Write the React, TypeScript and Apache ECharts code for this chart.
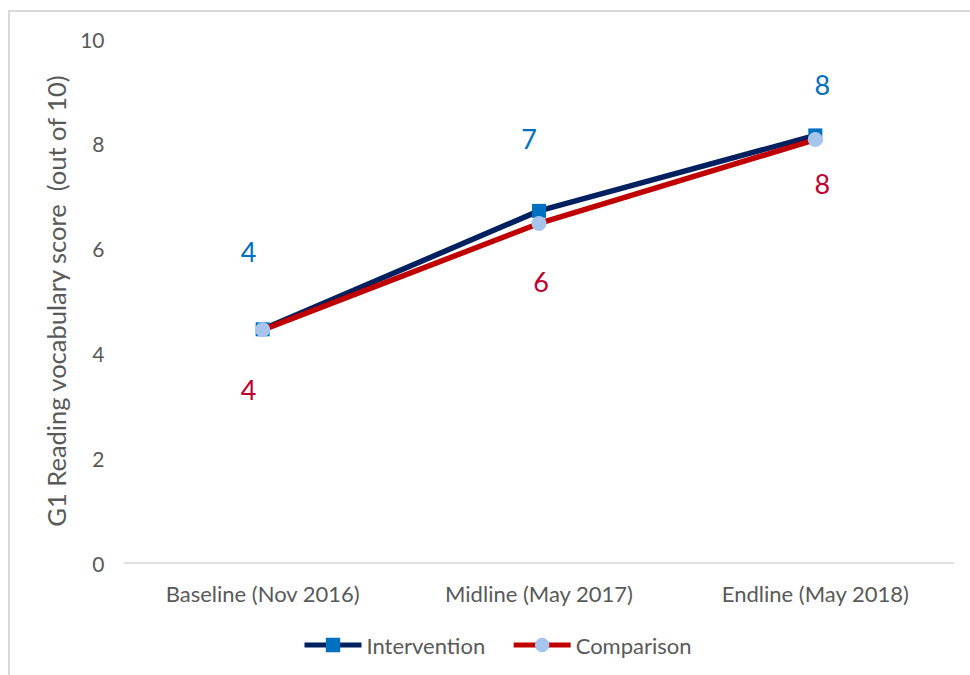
import React, { useEffect, useRef } from "react";
import * as echarts from "echarts";

const categories = ["Baseline (Nov 2016)", "Midline (May 2017)", "Endline (May 2018)"];
const interventionValues = [4.46, 6.72, 8.16];
const comparisonValues = [4.45, 6.48, 8.08];
const yTicks = [0, 2, 4, 6, 8, 10];

// label placement (layout only)
const interventionLabelOffsets = [[-14, -78], [-10, -72], [7, -51]];
const comparisonLabelOffsets = [[-14, 60], [2, 58], [7, 44]];

const FONT = "Lato, 'Open Sans', sans-serif";

export default function App() {
  const ref = useRef<HTMLDivElement>(null);
  useEffect(() => {
    if (!ref.current) return;
    const chart = echarts.init(ref.current, null, { renderer: "svg" });
    const mk = (vals: number[], offs: number[][], color: string) =>
      vals.map((v, i) => ({
        value: v,
        label: {
          show: true,
          position: "inside",
          offset: offs[i],
          formatter: (p: any) => String(Math.round(p.value)),
          color,
          fontSize: 27,
          fontFamily: FONT,
        },
      }));
    chart.setOption({
      animation: false,
      textStyle: { fontFamily: FONT },
      grid: { left: 124.5, right: 16.5, top: 39, bottom: 112 },
      xAxis: {
        type: "category",
        data: categories,
        boundaryGap: true,
        axisLine: { lineStyle: { color: "#d9d9d9", width: 1.5 } },
        axisTick: { show: false },
        axisLabel: { color: "#595959", fontSize: 22, margin: 19, fontFamily: FONT },
      },
      yAxis: {
        type: "value",
        min: yTicks[0],
        max: yTicks[yTicks.length - 1],
        interval: 2,
        splitLine: { show: false },
        axisLine: { show: false },
        axisTick: { show: false },
        axisLabel: { color: "#595959", fontSize: 21, margin: 20, fontFamily: FONT },
        name: "G1 Reading vocabulary score  (out of 10)",
        nameLocation: "middle",
        nameGap: 50,
        nameTextStyle: { color: "#595959", fontSize: 25.5, fontFamily: FONT },
      },
      legend: {
        bottom: 14,
        left: 297,
        itemWidth: 57,
        itemHeight: 18,
        itemGap: 26,
        textStyle: { color: "#595959", fontSize: 22, fontFamily: FONT },
        data: [
          { name: "Intervention", lineStyle: { width: 5 } },
          { name: "Comparison", lineStyle: { width: 5 } },
        ],
      },
      series: [
        {
          name: "Intervention",
          type: "line",
          data: mk(interventionValues, interventionLabelOffsets, "#0070C0"),
          lineStyle: { color: "#002060", width: 5.5 },
          itemStyle: { color: "#0070C0" },
          symbol: "rect",
          symbolSize: 14,
          z: 2,
        },
        {
          name: "Comparison",
          type: "line",
          data: mk(comparisonValues, comparisonLabelOffsets, "#C00030"),
          lineStyle: { color: "#C00000", width: 5.5 },
          itemStyle: { color: "#A6C4EC" },
          symbol: "circle",
          symbolSize: 15,
          z: 3,
        },
      ],
    });
    return () => chart.dispose();
  }, []);
  return (
    <div style={{ position: "fixed", left: 0, top: 0, width: 970, height: 675, background: "#fff" }}>
      <div
        style={{
          position: "absolute",
          left: 8,
          top: 10,
          width: 1000,
          height: 700,
          border: "2px solid #d9d9d9",
          boxSizing: "border-box",
        }}
      />
      <div ref={ref} style={{ position: "absolute", left: 0, top: 0, width: 970, height: 675 }} />
    </div>
  );
}
